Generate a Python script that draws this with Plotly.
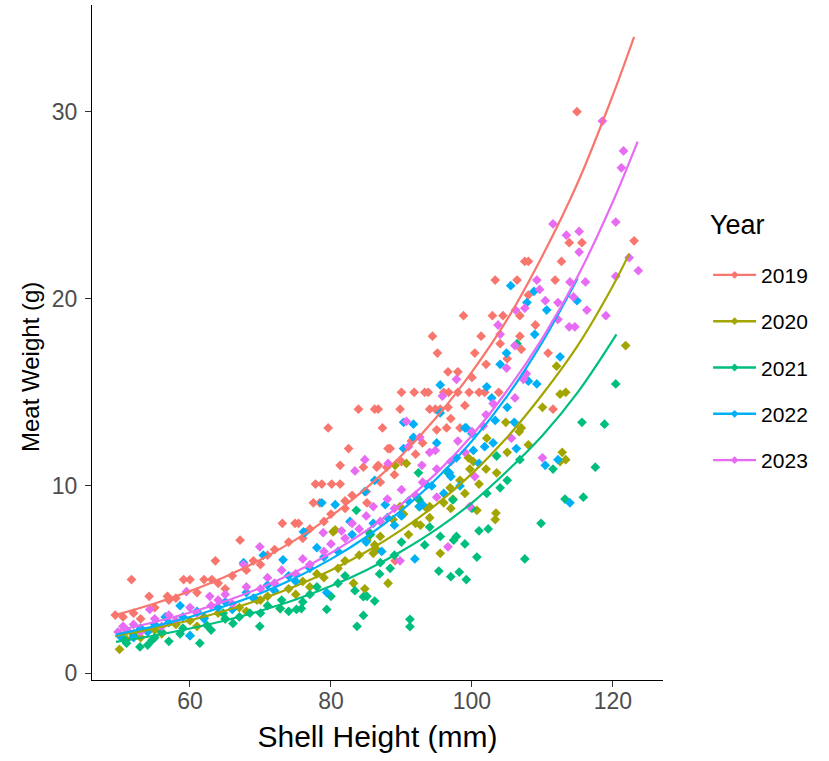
import plotly.graph_objects as go

years = ["2019", "2020", "2021", "2022", "2023"]
colors = ["#F8766D", "#A3A500", "#00BF7D", "#00B0F6", "#E76BF3"]

# ---- observed points (shell height mm, meat weight g) ----
x2019 = [49.4, 51.7, 54.2, 56.8, 59.1, 60.0, 62.0, 63.1, 63.6, 67.1, 73.1, 74.9, 75.4, 77.5, 78.4, 77.8, 78.7, 80.1, 81.3,
         81.3, 82.0, 82.5, 79.6, 83.9, 86.2, 86.7, 87.3, 88.4, 86.7, 84.6, 87.9, 88.1, 89.8, 90.0, 91.8, 93.3, 93.8, 91.4,
         94.0, 94.8, 95.5, 96.4, 98.3, 96.6, 96.0, 96.7, 98.0, 99.6, 101.0, 101.8, 103.8, 96.6, 98.0, 94.4, 95.1, 98.8,
         100.4, 101.3, 102.9, 104.4, 106.8, 106.8, 103.3, 106.4, 107.5, 108.0, 111.8, 112.7, 110.8, 111.5, 113.8, 115.6,
         123.0, 114.9, 85.1, 89.1, 86.5,
         50.5, 52.0, 53.0, 55.0, 57.0, 58.0, 61.0, 64.0, 65.0, 66.0, 68.0, 69.0, 70.0, 71.0, 72.0, 74.0, 76.0, 77.0, 79.0,
         80.0, 82.0, 83.0, 85.0, 87.0, 89.0, 90.0, 92.0, 93.0, 95.0, 97.0, 99.0, 100.0, 102.0, 104.0, 105.0, 107.0, 108.0,
         109.0]
y2019 = [3.1, 5.0, 4.1, 4.1, 5.0, 5.0, 5.0, 5.0, 6.0, 7.1, 8.0, 8.0, 8.0, 9.1, 9.1, 10.1, 10.1, 10.1, 10.1,
         11.1, 9.2, 12.0, 13.1, 14.1, 14.1, 14.1, 13.1, 12.0, 11.1, 11.0, 11.0, 12.0, 14.1, 15.0, 15.0, 15.0, 15.0, 12.4,
         14.1, 14.1, 14.1, 13.1, 13.1, 14.2, 15.0, 15.0, 15.0, 15.0, 15.0, 15.0, 15.0, 16.1, 16.1, 18.0, 17.1, 19.1,
         17.1, 18.0, 19.1, 19.1, 19.1, 18.0, 21.0, 21.0, 22.0, 22.0, 21.0, 22.0, 17.1, 14.1, 23.0, 23.0,
         23.1, 30.0, 9.1, 6.0, 11.0,
         3.0, 3.2, 2.9, 3.5, 3.9, 4.0, 4.3, 4.8, 4.5, 5.2, 5.5, 6.0, 5.8, 6.3, 6.6, 7.0, 7.2, 7.7, 8.1,
         8.5, 8.8, 9.5, 9.7, 10.2, 10.6, 11.3, 11.7, 12.3, 13.0, 13.6, 14.3, 15.8, 16.5, 17.6, 16.8, 17.3, 20.2,
         18.6]

x2020 = [121.8, 112.0, 113.3, 112.5, 106.7, 104.8, 102.1, 103.5, 112.8, 113.3, 112.5, 100.2, 99.5, 99.7, 96.9, 98.3,
         97.3, 100.7, 103.4, 103.3, 95.5, 88.1, 92.7, 86.2, 85.1, 86.0, 90.3, 89.8, 88.8, 84.8, 93.6, 94.0, 89.1, 90.7,
         80.6, 72.8, 83.2, 80.3, 50.0, 69.5,
         51.0, 52.0, 53.0, 55.0, 56.0, 58.0, 60.0, 61.0, 62.0, 64.0, 65.0, 67.0, 68.0, 70.0, 71.0, 74.0, 75.0, 76.0,
         77.0, 78.0, 79.0, 81.0, 82.0, 84.0, 86.5, 87.0, 91.0, 92.0, 94.0, 96.0, 97.0, 99.0, 101.0, 102.0, 105.0, 107.0,
         108.0, 110.0]
y2020 = [17.5, 16.4, 15.0, 14.9, 12.9, 13.4, 12.55, 10.7, 11.8, 11.4, 11.3, 11.3, 11.5, 10.9, 9.9, 10.3,
         9.3, 8.7, 8.55, 8.2, 6.4, 4.8, 7.9, 6.85, 7.1, 6.4, 8.5, 8.9, 8.2, 4.5, 8.8, 8.9, 11.1, 11.2,
         7.65, 3.45, 4.8, 7.55, 1.27, 3.9,
         1.8, 2.1, 1.9, 2.3, 2.1, 2.6, 2.8, 2.5, 3.0, 3.2, 2.9, 3.5, 3.3, 3.9, 4.1, 4.5, 4.2, 4.9,
         4.6, 5.3, 5.1, 5.6, 6.0, 6.3, 6.6, 7.3, 7.4, 8.0, 8.3, 9.1, 8.8, 9.6, 10.1, 10.9, 11.8, 13.1,
         12.2, 14.2]

x2021 = [120.4, 115.6, 118.8, 117.5, 115.8, 111.5, 109.8, 107.5, 113.2, 103.5, 101.0, 102.3, 100.7, 99.0, 97.8, 97.4,
         95.5, 93.3, 95.3, 97.0, 98.2, 99.2, 91.2, 91.2, 86.2, 84.6, 84.6, 86.9, 88.4, 85.6, 92.2, 92.5, 96.5, 102.1,
         106.8, 92.4, 85.5, 92.5, 96.6, 97.3, 83.6, 75.1, 75.8, 79.4, 69.9, 83.7, 61.4, 83.4, 85.1, 52.9, 50.5, 58.6,
         62.4, 66.1, 68.5, 72.8, 54.6, 64.7, 106.4,
         51.0, 52.0, 54.0, 55.0, 56.0, 57.0, 59.0, 60.0, 63.0, 65.0, 67.0, 70.0, 71.0, 73.0, 74.0, 76.0, 77.0, 78.0,
         80.0, 81.0, 82.0, 87.0, 89.0, 90.0, 94.0, 100.0, 104.0, 105.0]
y2021 = [15.45, 13.4, 13.3, 11.0, 9.4, 10.9, 8.0, 6.1, 9.3, 11.6, 7.6, 7.7, 6.2, 6.9, 7.3, 7.1,
         7.3, 6.85, 5.45, 5.15, 5.4, 5.0, 2.87, 2.48, 3.85, 4.08, 3.08, 5.3, 5.6, 7.4, 9.4, 8.9, 10.8, 9.6,
         11.4, 10.7, 7.5, 9.25, 10.7, 9.25, 8.7, 3.4, 3.45, 3.4, 2.5, 2.5, 1.6, 4.4, 4.1, 1.4, 1.85, 2.1,
         2.55, 2.65, 3.2, 3.45, 1.75, 3.2, 17.6,
         1.6, 2.0, 1.5, 1.9, 2.2, 1.7, 2.4, 2.0, 2.3, 2.9, 3.0, 3.2, 3.6, 3.9, 3.3, 3.8, 4.2, 4.6,
         4.1, 4.8, 5.2, 5.9, 6.3, 7.0, 7.8, 8.8, 9.9, 10.3]

x2022 = [105.5, 108.8, 107.8, 114.9, 110.6, 108.9, 104.0, 104.9, 112.5, 109.2, 102.1, 112.2, 110.4, 106.3, 103.3,
         101.8, 100.2, 97.8, 99.2, 95.0, 96.8, 98.3, 91.9, 90.0, 92.6, 87.7, 87.2, 93.6, 94.3, 91.7, 90.3, 95.5, 102.8,
         95.5, 91.7, 90.3, 84.8, 86.2, 78.7, 76.1, 78.0, 70.4, 82.7, 99.0, 80.6, 76.3, 79.4, 67.6, 73.2, 58.6, 60.0,
         56.5, 113.9,
         50.0, 51.0, 52.0, 53.0, 54.0, 55.0, 57.0, 59.0, 61.0, 62.0, 64.0, 65.0, 66.0, 68.0, 69.0, 71.0, 72.0, 74.0,
         75.0, 77.0, 79.0, 81.0, 83.0, 85.0, 86.0, 88.0, 89.0, 91.0, 93.0, 96.0, 97.0, 100.0, 101.0, 103.0, 105.0, 106.0,
         108.0]
y2022 = [20.7, 20.4, 19.8, 19.9, 19.4, 18.1, 16.5, 17.1, 16.9, 15.45, 15.3, 11.4, 11.1, 12.0, 13.5,
         12.1, 11.9, 11.5, 13.1, 12.3, 10.7, 10.0, 6.1, 8.4, 8.9, 9.0, 6.5, 10.05, 10.0, 12.6, 13.4, 15.4, 14.7,
         13.9, 13.3, 12.0, 9.7, 10.3, 9.1, 7.55, 6.7, 6.3, 8.1, 13.1, 9.0, 7.5, 4.3, 5.9, 6.05, 3.6, 2.0,
         3.0, 9.1,
         2.0, 2.3, 1.9, 2.4, 2.2, 2.6, 2.7, 3.0, 3.3, 2.9, 3.5, 3.8, 3.4, 4.3, 4.0, 4.7, 4.4, 5.2,
         4.9, 5.6, 6.2, 6.5, 7.4, 7.0, 8.0, 8.3, 7.9, 9.2, 9.0, 9.6, 10.5, 12.8, 11.2, 12.3, 14.2, 13.4,
         15.6]

x2023 = [118.5, 121.5, 121.2, 111.5, 120.4, 113.4, 115.2, 115.2, 122.3, 123.6, 109.2, 120.4, 113.9, 116.1, 109.6,
         110.4, 114.4, 116.3, 119.0, 112.2, 106.2, 103.7, 112.2, 113.8, 104.0, 104.9, 114.6, 107.5, 106.1, 107.7,
         106.1, 110.0, 105.6, 97.8, 107.3, 101.6, 99.7, 100.4, 96.6, 95.0, 92.6, 90.7, 84.8, 89.8, 92.9, 94.8, 95.8,
         94.0, 83.4, 88.1, 86.0, 78.9, 69.9, 81.5, 91.0, 59.5, 67.6, 62.8, 50.5, 49.8, 54.3,
         51.0, 52.0, 53.0, 55.0, 56.0, 57.0, 58.0, 60.0, 61.0, 63.0, 64.0, 65.0, 66.0, 68.0, 70.0, 71.0, 72.0, 73.0,
         75.0, 76.0, 77.0, 79.0, 80.0, 82.0, 83.0, 84.0, 85.0, 87.0, 88.0, 89.0, 90.0, 92.0, 93.0, 95.0, 97.0, 98.0,
         99.0, 100.0, 102.0, 103.0]
y2023 = [29.5, 27.9, 27.0, 24.0, 24.1, 23.4, 23.6, 22.5, 22.2, 21.5, 21.0, 21.2, 20.9, 20.9, 20.5,
         19.9, 20.1, 19.4, 19.1, 19.8, 19.4, 18.6, 18.9, 18.5, 18.1, 16.3, 18.5, 19.5, 17.5, 16.0,
         14.7, 11.5, 12.55, 15.7, 15.7, 13.2, 8.9, 10.5, 6.75, 9.4, 12.6, 13.45, 11.4, 6.0, 11.1, 11.9, 14.8,
         11.8, 10.8, 11.2, 8.9, 7.5, 6.75, 7.6, 12.1, 4.35, 5.8, 4.1, 2.5, 2.2, 3.4,
         2.3, 2.6, 2.2, 2.9, 2.5, 3.1, 2.8, 3.5, 3.2, 3.6, 3.9, 4.2, 3.7, 4.6, 4.5, 5.1, 4.8, 5.5,
         5.3, 6.1, 5.8, 6.5, 6.9, 7.2, 8.0, 7.7, 8.4, 8.1, 9.3, 8.8, 9.8, 9.5, 10.2, 10.9, 11.3, 12.4,
         11.8, 12.9, 13.8, 14.4]

# ---- fitted curves ----
cx2019 = [49.5, 55, 60, 65, 70, 75, 80, 85, 90, 95, 100, 105, 110, 115, 120, 123]
cy2019 = [3.11, 3.72, 4.38, 5.15, 6.06, 7.13, 8.39, 9.88, 11.63, 13.68, 16.1, 18.9, 22.3, 26.2, 30.9, 34.0]
cx2020 = [49.5, 55, 60, 65, 70, 75, 80, 85, 90, 95, 100, 105, 110, 115, 120, 122.3]
cy2020 = [2.0, 2.39, 2.82, 3.33, 3.94, 4.65, 5.49, 6.48, 7.65, 9.03, 10.66, 12.6, 14.9, 17.5, 20.7, 22.4]
cx2021 = [49.5, 55, 60, 65, 70, 75, 80, 85, 90, 95, 100, 105, 110, 115, 120.5]
cy2021 = [1.67, 2.01, 2.38, 2.81, 3.33, 3.93, 4.65, 5.50, 6.51, 7.69, 9.10, 10.8, 12.7, 15.0, 18.1]
cx2022 = [49.5, 55, 60, 65, 70, 75, 80, 85, 90, 95, 100, 105, 110, 115]
cy2022 = [2.06, 2.51, 3.0, 3.58, 4.27, 5.10, 6.09, 7.27, 8.69, 10.4, 12.4, 14.8, 17.7, 21.1]
cx2023 = [49.5, 55, 60, 65, 70, 75, 80, 85, 90, 95, 100, 105, 110, 115, 120, 123.5]
cy2023 = [2.26, 2.73, 3.24, 3.84, 4.56, 5.41, 6.42, 7.61, 9.03, 10.7, 12.7, 15.1, 17.9, 21.2, 25.2, 28.4]

xticks = [60, 80, 100, 120]
yticks = [0, 10, 20, 30]

pts = [(x2019, y2019), (x2020, y2020), (x2021, y2021), (x2022, y2022), (x2023, y2023)]
curves = [(cx2019, cy2019), (cx2020, cy2020), (cx2021, cy2021), (cx2022, cy2022), (cx2023, cy2023)]

FONT = "Liberation Sans, Arial, sans-serif"
fig = go.Figure()
for yr, col, (px, py) in zip(years, colors, pts):
    fig.add_trace(go.Scatter(x=px, y=py, mode="markers", name=yr, legendgroup=yr, showlegend=False,
                             marker=dict(symbol="diamond", size=7.5, color=col, line=dict(width=0))))
for yr, col, (cx, cy) in zip(years, colors, curves):
    fig.add_trace(go.Scatter(x=cx, y=cy, mode="lines", name=yr, legendgroup=yr, showlegend=False,
                             line=dict(color=col, width=2.2, shape="spline")))
for yr, col in zip(years, colors):
    fig.add_trace(go.Scatter(x=[None], y=[None], mode="lines+markers", name=yr, legendgroup=yr,
                             marker=dict(symbol="diamond", size=6, color=col),
                             line=dict(color=col, width=2.4)))

axis_common = dict(showgrid=False, zeroline=False, showline=True, linecolor="black", linewidth=1.2,
                   ticks="outside", ticklen=6, tickwidth=1.1, tickcolor="#333333", automargin=False,
                   mirror=False)

fig.update_layout(
    width=829, height=761,
    margin=dict(l=92, r=166, t=5, b=81, autoexpand=False),
    paper_bgcolor="white", plot_bgcolor="white",
    xaxis=dict(range=[46.1, 127.1], tickvals=xticks, ticktext=[str(v) for v in xticks],
               tickfont=dict(family=FONT, size=23, color="#4D4D4D"), ticklabelstandoff=-6,
               title=dict(text="Shell Height (mm)", font=dict(family=FONT, size=30, color="black"), standoff=13),
               **axis_common),
    yaxis=dict(range=[-0.37, 35.7], tickvals=yticks, ticktext=[str(v) for v in yticks],
               tickfont=dict(family=FONT, size=23, color="#4D4D4D"), ticklabelstandoff=3,
               **axis_common),
    legend=dict(font=dict(family=FONT, size=21, color="black"),
                x=1.079, xanchor="left", y=0.63, yanchor="top",
                tracegroupgap=16, itemwidth=43, bgcolor="rgba(0,0,0,0)"),
    annotations=[
        dict(text="Year", xref="paper", yref="paper", x=1.079, y=0.674,
             xanchor="left", yanchor="middle", showarrow=False,
             font=dict(family=FONT, size=27, color="black")),
        dict(text="Meat Weight (g)", xref="paper", yref="paper", x=-0.1086, y=0.4637,
             xanchor="center", yanchor="middle", textangle=-90, showarrow=False,
             font=dict(family=FONT, size=24, color="black")),
    ],
    showlegend=True,
)

fig.write_html("out.html", config={"displayModeBar": False},
               post_script="document.body.style.margin='0px';")
